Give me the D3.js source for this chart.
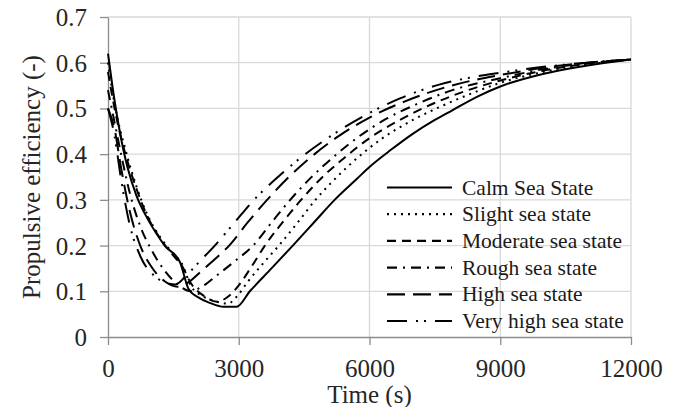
<!DOCTYPE html>
<html>
<head>
<meta charset="utf-8">
<script src="https://cdn.jsdelivr.net/npm/d3@7"></script>
<style>
  body { margin: 0; background: #fff; }
  svg, svg text { font-family: "Liberation Serif", Tinos, "Times New Roman", "DejaVu Serif", serif; }
</style>
</head>
<body>
<script>
// [time (s), propulsive efficiency (-)]
var calmSea = [[0,0.62],[100,0.55],[250,0.46],[450,0.37],[650,0.31],[900,0.26],[1100,0.228],[1300,0.2],[1650,0.164],[1850,0.105],[2100,0.085],[2350,0.074],[2650,0.066],[2950,0.066],[3255,0.1],[3750,0.15],[4240,0.2],[4720,0.25],[5200,0.3],[5700,0.345],[6000,0.372],[6500,0.41],[7000,0.445],[7500,0.475],[7900,0.496],[8500,0.527],[9000,0.548],[10000,0.576],[11000,0.594],[12000,0.607]];
var slightSea = [[0,0.6],[150,0.51],[400,0.41],[650,0.33],[900,0.268],[1200,0.218],[1500,0.182],[1700,0.16],[1900,0.112],[2200,0.088],[2500,0.077],[2750,0.073],[2950,0.088],[3200,0.12],[3550,0.16],[3920,0.2],[4350,0.25],[4760,0.3],[5200,0.345],[5700,0.39],[6300,0.435],[7000,0.475],[7700,0.507],[8400,0.535],[9000,0.556],[10000,0.58],[11000,0.596],[12000,0.607]];
var moderateSea = [[0,0.58],[150,0.5],[400,0.4],[650,0.325],[900,0.265],[1200,0.215],[1500,0.178],[1700,0.155],[1900,0.118],[2200,0.09],[2500,0.077],[2750,0.088],[3000,0.113],[3300,0.155],[3600,0.2],[4000,0.25],[4430,0.3],[4900,0.348],[5400,0.39],[6000,0.435],[6700,0.475],[7400,0.508],[8200,0.538],[9000,0.561],[10000,0.583],[11000,0.598],[12000,0.607]];
var roughSea = [[0,0.54],[150,0.47],[300,0.4],[500,0.315],[750,0.24],[1000,0.19],[1300,0.145],[1600,0.115],[1900,0.1],[2150,0.11],[2500,0.135],[2900,0.165],[3330,0.2],[3750,0.25],[4180,0.3],[4650,0.348],[5150,0.392],[5750,0.438],[6400,0.478],[7100,0.51],[7900,0.54],[9000,0.566],[10000,0.586],[11000,0.599],[12000,0.607]];
var highSea = [[0,0.5],[150,0.455],[300,0.37],[500,0.275],[700,0.21],[1000,0.153],[1300,0.122],[1600,0.11],[1850,0.12],[2150,0.145],[2450,0.17],[2780,0.2],[3200,0.25],[3650,0.3],[4150,0.35],[4700,0.397],[5300,0.44],[6000,0.48],[6800,0.515],[7700,0.545],[8400,0.562],[9000,0.573],[10000,0.589],[11000,0.6],[12000,0.607]];
var veryHighSea = [[0,0.5],[150,0.44],[300,0.345],[500,0.245],[750,0.175],[1050,0.135],[1350,0.118],[1550,0.115],[1800,0.135],[2100,0.165],[2450,0.2],[2900,0.25],[3350,0.3],[3900,0.35],[4500,0.398],[5150,0.442],[5900,0.485],[6700,0.522],[7600,0.552],[8400,0.569],[9000,0.578],[10000,0.591],[11000,0.6],[12000,0.607]];

var seriesNames = ["Calm Sea State", "Slight sea state", "Moderate sea state", "Rough sea state", "High sea state", "Very high sea state"];
var seriesDash = ["none", "2,5", "9,6", "10,6,2,6", "18,8", "20,9,2,6,2,9"];
var xTicks = [0, 3000, 6000, 9000, 12000];
var yTicks = [0, 0.1, 0.2, 0.3, 0.4, 0.5, 0.6, 0.7];

var allSeries = [calmSea, slightSea, moderateSea, roughSea, highSea, veryHighSea];

var serifFont = "'Liberation Serif', Tinos, 'Times New Roman', 'DejaVu Serif', serif";

var svgWidth = 684;
var svgHeight = 407;
var margin = {top: 17, right: 53, bottom: 70, left: 108};
var chartWidth = svgWidth - margin.left - margin.right;
var chartHeight = svgHeight - margin.top - margin.bottom;

var svg = d3.select("body")
  .append("svg")
  .attr("width", svgWidth)
  .attr("height", svgHeight)
  .attr("font-family", serifFont);

var chartGroup = svg.append("g")
  .attr("transform", `translate(${margin.left}, ${margin.top})`);

var xScale = d3.scaleLinear().domain([0, 12000]).range([0, chartWidth]);
var yScale = d3.scaleLinear().domain([0, 0.7]).range([chartHeight, 0]);

// gridlines
chartGroup.selectAll(".hgrid")
  .data(yTicks.slice(1))
  .enter()
  .append("line")
  .attr("x1", 0)
  .attr("x2", chartWidth)
  .attr("y1", d => yScale(d))
  .attr("y2", d => yScale(d))
  .attr("stroke", "#d9d9d9")
  .attr("stroke-width", 1.3);

chartGroup.selectAll(".vgrid")
  .data(xTicks.slice(1))
  .enter()
  .append("line")
  .attr("x1", d => xScale(d))
  .attr("x2", d => xScale(d))
  .attr("y1", 0)
  .attr("y2", chartHeight)
  .attr("stroke", "#d9d9d9")
  .attr("stroke-width", 1.3);

// axes
var leftAxis = d3.axisLeft(yScale)
  .tickValues(yTicks)
  .tickFormat(d => d === 0 ? "0" : d3.format(".1f")(d))
  .tickSize(8)
  .tickSizeOuter(0)
  .tickPadding(13);

var bottomAxis = d3.axisBottom(xScale)
  .tickValues(xTicks)
  .tickFormat(d3.format("d"))
  .tickSize(8)
  .tickSizeOuter(0);

var yAxisG = chartGroup.append("g").call(leftAxis);
var xAxisG = chartGroup.append("g")
  .attr("transform", `translate(0, ${chartHeight})`)
  .call(bottomAxis);

[yAxisG, xAxisG].forEach(function(g) {
  g.attr("font-family", serifFont).attr("font-size", 25);
  g.select(".domain").attr("stroke", "#8c8c8c").attr("stroke-width", 1.3);
  g.selectAll(".tick line").attr("stroke", "#8c8c8c").attr("stroke-width", 1.3);
  g.selectAll(".tick text").attr("fill", "#262626");
});
yAxisG.selectAll(".tick text").attr("dy", "0.34em");
xAxisG.selectAll(".tick text").attr("y", 40).attr("dy", 0);

// axis titles
svg.append("text")
  .attr("x", margin.left + chartWidth / 2)
  .attr("y", 403)
  .attr("text-anchor", "middle")
  .attr("font-size", 25)
  .attr("fill", "#262626")
  .text("Time (s)");

svg.append("text")
  .attr("transform", `translate(40, ${margin.top + chartHeight / 2}) rotate(-90)`)
  .attr("text-anchor", "middle")
  .attr("font-size", 25)
  .attr("fill", "#262626")
  .text("Propulsive efficiency  (-)");

// curves
var line = d3.line()
  .x(d => xScale(d[0]))
  .y(d => yScale(d[1]))
  .curve(d3.curveMonotoneX);

chartGroup.selectAll(".curve")
  .data(allSeries)
  .enter()
  .append("path")
  .attr("d", line)
  .attr("fill", "none")
  .attr("stroke", "#000")
  .attr("stroke-width", 2)
  .attr("stroke-dasharray", (d, i) => seriesDash[i]);

// legend
var legend = svg.append("g")
  .attr("transform", "translate(387, 187.5)");

var rows = legend.selectAll(".row")
  .data(seriesNames)
  .enter()
  .append("g")
  .attr("transform", (d, i) => `translate(0, ${i * 26.7})`);

rows.append("line")
  .attr("x1", 0)
  .attr("x2", 65)
  .attr("y1", 0)
  .attr("y2", 0)
  .attr("stroke", "#000")
  .attr("stroke-width", 2.2)
  .attr("stroke-dasharray", (d, i) => seriesDash[i]);

rows.append("text")
  .attr("x", 75)
  .attr("y", 7)
  .attr("font-size", 21.5)
  .attr("fill", "#1a1a1a")
  .text(d => d);
</script>
</body>
</html>
